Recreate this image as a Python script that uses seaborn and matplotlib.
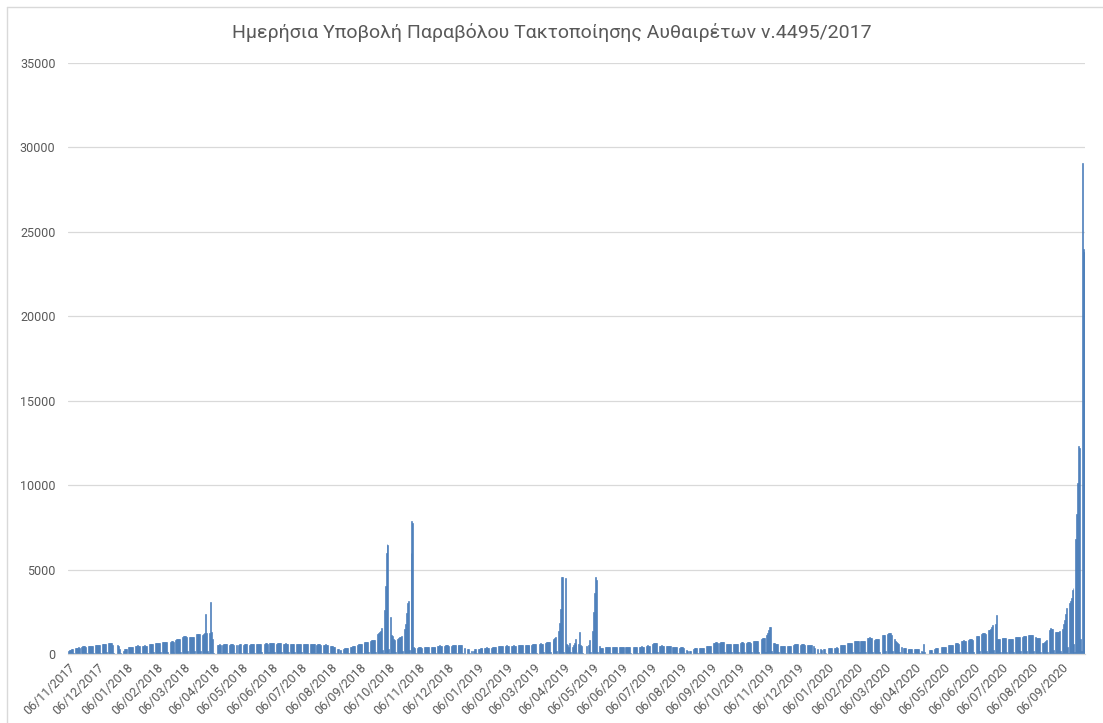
import numpy as np
import pandas as pd
import matplotlib
matplotlib.use("Agg")
import matplotlib.pyplot as plt
import matplotlib.transforms as mtransforms
from matplotlib.lines import Line2D
import seaborn as sns

# daily submissions, one row per week (Mon..Sun), starting Mon 06/11/2017
counts_2017 = [
    150, 220, 260, 290, 310, 45, 8,
    350, 370, 380, 390, 380, 55, 10,
    430, 450, 460, 450, 440, 65, 12,
    460, 480, 490, 480, 470, 70, 12,
    520, 540, 550, 540, 520, 80, 15,
    590, 610, 620, 610, 600, 90, 15,
    630, 650, 660, 640, 560, 60, 10,
    0, 5, 530, 450, 300, 40, 5,
]

counts_2018 = [
    0, 180, 290, 320, 310, 10, 3,
    400, 420, 430, 420, 410, 60, 10,
    480, 500, 510, 500, 490, 75, 12,
    490, 500, 510, 500, 490, 75, 12,
    580, 600, 610, 600, 590, 90, 15,
    650, 670, 680, 670, 650, 100, 15,
    690, 710, 720, 710, 700, 105, 18,
    0, 740, 760, 750, 730, 110, 18,
    850, 870, 880, 870, 860, 130, 20,
    1030, 1050, 1060, 1040, 1000, 155, 25,
    980, 1000, 1010, 1000, 990, 150, 25,
    1180, 1200, 1210, 1200, 1190, 180, 10,
    1150, 1200, 1250, 2350, 1250, 190, 30,
    1250, 3050, 1320, 900, 40, 10, 0,
    0, 520, 560, 570, 560, 85, 15,
    560, 580, 590, 580, 570, 85, 15,
    550, 570, 580, 570, 560, 85, 15,
    520, 0, 560, 580, 570, 85, 15,
    560, 580, 590, 580, 570, 85, 15,
    560, 580, 590, 580, 570, 85, 15,
    570, 590, 600, 590, 580, 90, 15,
    0, 620, 640, 630, 610, 95, 15,
    640, 660, 680, 670, 650, 100, 15,
    620, 640, 650, 640, 630, 95, 15,
    600, 620, 630, 620, 610, 90, 15,
    590, 600, 610, 600, 590, 90, 15,
    580, 590, 600, 590, 580, 90, 15,
    570, 580, 590, 580, 570, 85, 15,
    570, 580, 590, 580, 570, 85, 15,
    560, 570, 580, 570, 560, 85, 15,
    550, 560, 570, 560, 540, 80, 12,
    470, 460, 450, 440, 420, 60, 10,
    300, 280, 0, 250, 240, 35, 8,
    310, 330, 340, 340, 330, 50, 10,
    420, 440, 450, 460, 450, 70, 12,
    550, 570, 580, 580, 570, 85, 15,
    680, 700, 710, 720, 710, 105, 18,
    780, 800, 820, 830, 850, 125, 20,
    1200, 1250, 1300, 1350, 1550, 230, 40,
    2600, 4000, 6000, 6500, 6450, 300, 50,
    2200, 1100, 1050, 900, 850, 130, 20,
    900, 950, 1000, 1000, 1050, 160, 25,
    1500, 1800, 2400, 3000, 3150, 250, 0,
    6000, 7850, 7750, 420, 380, 60, 10,
    380, 390, 400, 390, 380, 55, 10,
    390, 400, 410, 400, 390, 60, 10,
    390, 400, 410, 400, 390, 60, 10,
    480, 500, 510, 500, 490, 75, 12,
    490, 510, 520, 510, 500, 75, 12,
    500, 520, 530, 520, 510, 75, 12,
    530, 550, 560, 550, 540, 80, 12,
    350, 0, 0, 320, 300, 45, 8,
    150,
]

counts_2019 = [
    0, 200, 270, 280, 40, 5,
    300, 320, 340, 340, 330, 50, 10,
    360, 380, 390, 380, 370, 55, 10,
    380, 400, 410, 400, 390, 60, 10,
    460, 480, 490, 480, 470, 70, 12,
    480, 500, 510, 500, 490, 75, 12,
    480, 500, 510, 500, 490, 75, 12,
    520, 540, 550, 540, 530, 80, 12,
    530, 550, 560, 550, 540, 80, 12,
    560, 580, 590, 580, 570, 85, 15,
    0, 610, 630, 620, 610, 90, 15,
    680, 700, 710, 700, 690, 105, 15,
    0, 850, 900, 950, 1000, 150, 25,
    1360, 1850, 2660, 4570, 4560, 120, 20,
    4520, 600, 520, 420, 650, 90, 15,
    420, 520, 650, 900, 580, 90, 15,
    600, 1300, 560, 500, 40, 5, 0,
    0, 500, 0, 520, 800, 120, 20,
    1360, 2470, 3600, 4570, 4400, 100, 15,
    480, 360, 340, 340, 330, 50, 10,
    390, 410, 420, 410, 400, 60, 10,
    390, 410, 420, 410, 400, 60, 10,
    390, 410, 420, 410, 400, 60, 10,
    400, 420, 430, 420, 410, 60, 10,
    0, 420, 430, 420, 410, 60, 10,
    420, 440, 450, 440, 430, 65, 12,
    480, 500, 510, 500, 490, 75, 12,
    620, 650, 670, 660, 640, 95, 15,
    490, 500, 510, 500, 490, 75, 12,
    460, 470, 480, 470, 460, 70, 12,
    400, 410, 420, 410, 400, 60, 10,
    380, 390, 400, 390, 370, 55, 10,
    230, 200, 0, 180, 170, 25, 5,
    310, 330, 340, 340, 330, 50, 10,
    340, 360, 370, 360, 350, 50, 10,
    450, 470, 480, 470, 460, 70, 12,
    660, 680, 690, 690, 680, 100, 15,
    680, 700, 720, 710, 700, 105, 15,
    580, 600, 610, 600, 590, 90, 15,
    590, 610, 620, 610, 600, 90, 15,
    670, 690, 700, 690, 680, 100, 15,
    670, 690, 700, 690, 680, 100, 15,
    750, 770, 780, 770, 760, 115, 18,
    0, 900, 930, 940, 950, 140, 20,
    1120, 1250, 1400, 1600, 1620, 200, 30,
    640, 630, 620, 610, 600, 90, 15,
    460, 480, 490, 480, 470, 70, 12,
    460, 480, 490, 480, 470, 70, 12,
    560, 580, 590, 580, 570, 85, 15,
    560, 580, 590, 580, 560, 85, 15,
    520, 540, 550, 540, 520, 80, 12,
    480, 380, 0, 0, 300, 45, 8,
    300, 250,
]

counts_2020 = [
    0, 300, 320, 45, 8,
    0, 360, 380, 380, 370, 55, 10,
    360, 380, 390, 380, 370, 55, 10,
    510, 530, 540, 530, 520, 80, 12,
    650, 670, 680, 670, 660, 100, 15,
    750, 770, 780, 770, 760, 115, 18,
    750, 770, 780, 770, 760, 115, 18,
    940, 960, 980, 970, 950, 145, 25,
    850, 870, 880, 870, 860, 130, 20,
    0, 1120, 1140, 1150, 1130, 170, 25,
    1200, 1240, 1260, 1220, 1150, 170, 25,
    900, 780, 700, 650, 600, 90, 15,
    420, 0, 380, 360, 350, 50, 10,
    320, 310, 300, 300, 290, 40, 8,
    300, 310, 300, 290, 280, 40, 8,
    150, 140, 600, 130, 0, 0, 0,
    0, 240, 250, 250, 240, 35, 8,
    310, 330, 340, 330, 0, 45, 8,
    420, 430, 440, 430, 420, 65, 12,
    520, 530, 540, 530, 520, 80, 12,
    620, 630, 640, 630, 620, 95, 15,
    770, 790, 800, 790, 780, 115, 18,
    850, 860, 870, 860, 850, 130, 20,
    0, 1050, 1070, 1080, 1060, 160, 25,
    1200, 1220, 1230, 1220, 1210, 180, 30,
    1400, 1450, 1500, 1600, 1700, 250, 40,
    1800, 2320, 880, 900, 900, 135, 20,
    940, 960, 970, 960, 950, 140, 22,
    890, 900, 910, 900, 890, 135, 20,
    980, 1000, 1010, 1000, 990, 150, 25,
    1030, 1050, 1060, 1050, 1040, 155, 25,
    1110, 1130, 1140, 1130, 1120, 170, 25,
    990, 970, 960, 950, 920, 100, 15,
    660, 680, 700, 780, 830, 120, 20,
    1450, 1500, 1520, 1500, 1480, 220, 35,
    1280, 1300, 1320, 1300, 1370, 200, 30,
    1500, 1780, 2000, 2350, 2700, 400, 60,
    3000, 3150, 3300, 3800, 3900, 600, 100,
    6800, 8300, 10100, 12300, 12200, 900, 150,
    29100, 24000, 23800,
]

start_date = "2017-11-06"
y_ticks = [0, 5000, 10000, 15000, 20000, 25000, 30000, 35000]
title = "Ημερήσια Υποβολή Παραβόλου Τακτοποίησης Αυθαιρέτων ν.4495/2017"

BLUE = "#4A7DBA"
GREY_TXT = "#595959"
GRID = "#D9D9D9"

counts = counts_2017 + counts_2018 + counts_2019 + counts_2020
dates = pd.date_range(start_date, periods=len(counts), freq="D")
df = pd.DataFrame({"day": np.arange(len(counts)), "count": counts})

sns.set_theme(style="white")
plt.rcParams["font.family"] = ["Roboto", "DejaVu Sans"]

W, H = 1103, 723
fig = plt.figure(figsize=(W / 100, H / 100), dpi=100)
ax = fig.add_axes([68 / W, 1 - 654 / H, (1085 - 68) / W, (654 - 63) / H])

# thin edge in the bar colour so single-day spikes keep some width, like Excel
sns.barplot(data=df, x="day", y="count", native_scale=True, color=BLUE,
            saturation=1, width=1, errorbar=None, edgecolor=BLUE,
            linewidth=0.45, ax=ax)

ax.set_xlim(-0.5, len(counts) - 0.5)
ax.set_ylim(0, 35000)
ax.set_yticks(y_ticks)
ax.set_yticklabels([str(v) for v in y_ticks])

tick_dates = pd.date_range(start_date, dates[-1], freq=pd.DateOffset(months=1))
ax.set_xticks((tick_dates - dates[0]).days)
ax.set_xticklabels(tick_dates.strftime("%d/%m/%Y"), rotation=45, ha="right",
                   rotation_mode="anchor")
shift = mtransforms.ScaledTranslation(4 / 100, -3 / 100, fig.dpi_scale_trans)
for lab in ax.get_xticklabels():
    lab.set_transform(lab.get_transform() + shift)

ax.yaxis.grid(True, color=GRID, linewidth=0.9)
ax.set_axisbelow(True)
for s in ["left", "right", "top"]:
    ax.spines[s].set_visible(False)
ax.spines["bottom"].set_color(GRID)
ax.spines["bottom"].set_linewidth(0.9)
ax.tick_params(axis="both", length=0, colors=GREY_TXT, labelsize=9)
ax.tick_params(axis="y", pad=9)
ax.tick_params(axis="x", pad=5)
ax.set_xlabel("")
ax.set_ylabel("")

fig.text(0.5, 1 - 32 / H, title, ha="center", va="center", fontsize=14, color=GREY_TXT)

# chart-area border (left and top edges visible in the crop)
fig.add_artist(Line2D([7 / W, 7 / W], [0, 1 - 7 / H], transform=fig.transFigure, color=GRID, lw=1))
fig.add_artist(Line2D([7 / W, 1], [1 - 7 / H, 1 - 7 / H], transform=fig.transFigure, color=GRID, lw=1))

fig.savefig("out.png", dpi=100)
